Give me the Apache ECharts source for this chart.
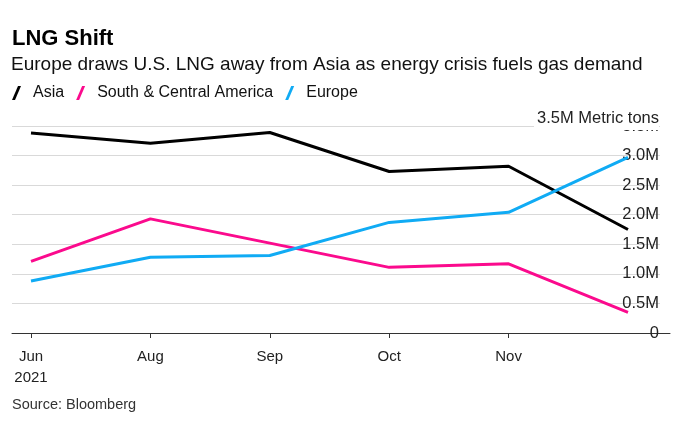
<!DOCTYPE html>
<html>
<head>
<meta charset="utf-8">
<script src="https://cdn.jsdelivr.net/npm/echarts@6/dist/echarts.min.js"></script>
<style>html,body{margin:0;padding:0;background:#fff}#c{width:693px;height:424px}</style>
</head>
<body>
<div id="c"></div>
<script>
const categories = ['Jun', 'Aug', 'Sep', 'Oct', 'Nov', 'Dec'];
const asia = [3.38, 3.21, 3.39, 2.73, 2.82, 1.75];
const southCentralAmerica = [1.21, 1.93, 1.52, 1.11, 1.17, 0.35];
const europe = [0.88, 1.28, 1.31, 1.87, 2.04, 2.97];
const yTicks = [0, 0.5, 1, 1.5, 2, 2.5, 3, 3.5];

const FONT = '"Liberation Sans", Arial, Helvetica, sans-serif';
const slash = 'path://M0,14 L3,14 L9,0 L6,0 Z';
const chart = echarts.init(document.getElementById('c'), null, {renderer: 'canvas'});
const gTop = 126, gBottom = 91;
chart.setOption({
  animation: false,
  backgroundColor: '#fff',
  textStyle: {fontFamily: FONT},
  title: [
    {text: 'LNG Shift', left: 12, top: 28, padding: 0, textStyle: {fontSize: 22, fontWeight: 'bold', color: '#000', fontFamily: FONT}},
    {text: 'Europe draws U.S. LNG away from Asia as energy crisis fuels gas demand', left: 11, top: 55, padding: 0,
     textStyle: {fontSize: 19, fontWeight: 'normal', color: '#111', fontFamily: FONT}},
    {text: 'Source: Bloomberg', left: 12, top: 397, padding: 0, textStyle: {fontSize: 14.5, fontWeight: 'normal', color: '#333', fontFamily: FONT}},
    {text: '3.5M Metric tons', right: 34, top: 109, padding: [1, 0, 3, 3], backgroundColor: '#fff', z: 20,
     textStyle: {fontSize: 16.5, fontWeight: 'normal', color: '#222', fontFamily: FONT}}
  ],
  legend: {
    left: 12, top: 85, padding: 0, itemWidth: 9, itemHeight: 14, itemGap: 12,
    icon: slash,
    textStyle: {fontSize: 16, color: '#111', fontFamily: FONT, padding: [0, 0, 0, 7]},
    data: ['Asia', 'South & Central America', 'Europe']
  },
  grid: [
    {left: 31, right: 65, top: gTop, bottom: gBottom},
    {left: 12, right: 33, top: gTop, bottom: gBottom},
    {left: 12, right: 23, top: gTop, bottom: gBottom}
  ],
  xAxis: [
    {type: 'category', gridIndex: 0, data: categories, boundaryGap: false,
     axisLine: {show: false},
     axisTick: {show: true, length: 5, lineStyle: {color: '#333'}, interval: function (i) { return i < 5; }},
     axisLabel: {interval: 0, margin: 13, fontSize: 15, lineHeight: 21, color: '#222', fontFamily: FONT,
       formatter: function (v, i) { if (i === 0) return v + '\n2021'; if (i === 5) return ''; return v; }},
     splitLine: {show: false}},
    {type: 'value', gridIndex: 1, min: 0, max: 1, show: false},
    {type: 'value', gridIndex: 2, min: 0, max: 1, show: true,
     axisLine: {show: true, onZero: false, lineStyle: {color: '#333', width: 1}},
     axisTick: {show: false}, axisLabel: {show: false}, splitLine: {show: false}}
  ],
  yAxis: [
    {type: 'value', gridIndex: 0, min: 0, max: 3.5, interval: 0.5, show: false, splitLine: {show: false}},
    {type: 'value', gridIndex: 1, position: 'right', min: 0, max: 3.5, interval: 0.5,
     axisLine: {show: false}, axisTick: {show: false},
     splitLine: {show: true, lineStyle: {color: '#d9d9d9', width: 1}},
     axisLabel: {inside: true, margin: 1, fontSize: 16.5, color: '#222', fontFamily: FONT,
       formatter: function (v) { return v === 0 ? '0' : v.toFixed(1) + 'M'; }}},
    {type: 'value', gridIndex: 2, min: 0, max: 3.5, show: false}
  ],
  series: [
    {name: 'Asia', type: 'line', xAxisIndex: 0, yAxisIndex: 0, data: asia, symbol: 'none', z: 5,
     lineStyle: {color: '#000', width: 3}, itemStyle: {color: '#000'}},
    {name: 'South & Central America', type: 'line', xAxisIndex: 0, yAxisIndex: 0, data: southCentralAmerica, symbol: 'none', z: 5,
     lineStyle: {color: '#fb0a8d', width: 3}, itemStyle: {color: '#fb0a8d'}},
    {name: 'Europe', type: 'line', xAxisIndex: 0, yAxisIndex: 0, data: europe, symbol: 'none', z: 5,
     lineStyle: {color: '#10abf4', width: 3}, itemStyle: {color: '#10abf4'}}
  ]
});
</script>
</body>
</html>
